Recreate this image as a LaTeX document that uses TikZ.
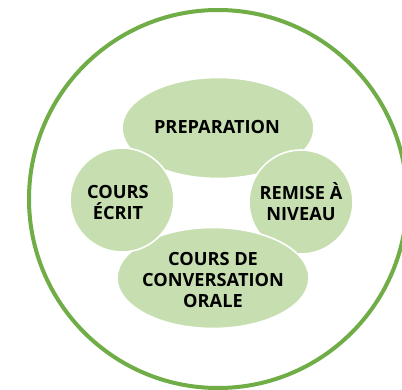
\documentclass[tikz,border=0pt]{standalone}
\usepackage{fontspec}
\setmainfont{Open Sans}
\usetikzlibrary{shapes.geometric}
\definecolor{ringgreen}{HTML}{70AD47}
\definecolor{petal}{HTML}{C7DFB0}
\tikzset{
  petalshape/.style={fill=petal, draw=white, line width=1.6pt, inner sep=0pt},
  petaltext/.style={font=\fontsize{18.2}{21}\selectfont\bfseries, align=center, text=black, inner sep=0pt}
}
\begin{document}
\begin{tikzpicture}[x=1pt,y=-1pt]
\useasboundingbox (0,0) rectangle (402,390);
\clip (0,0) rectangle (402,390);
\fill[white] (0,0) rectangle (402,390);
\draw[ringgreen, line width=4pt] (218,199) circle (189);
% petals
\node[petalshape, ellipse, minimum width=192pt, minimum height=101pt] (prep) at (218,128) {};
\node[petalshape, circle, minimum size=104pt] (remise) at (301,202) {};
\node[petalshape, ellipse, minimum width=192pt, minimum height=101pt] (conv) at (213,278) {};
\node[petalshape, circle, minimum size=104pt] (ecrit) at (122,200) {};
% texts
\node[petaltext] (preptxt) at (217,127) {PREPARATION};
\node[petaltext] (ecrittxt) at (118,202) {COURS\\ÉCRIT};
\node[petaltext] (remisetxt) at (301,202) {REMISE À\\NIVEAU};
\node[petaltext] (convtxt) at (213,280) {COURS DE\\CONVERSATION\\ORALE};
\end{tikzpicture}
\end{document}
